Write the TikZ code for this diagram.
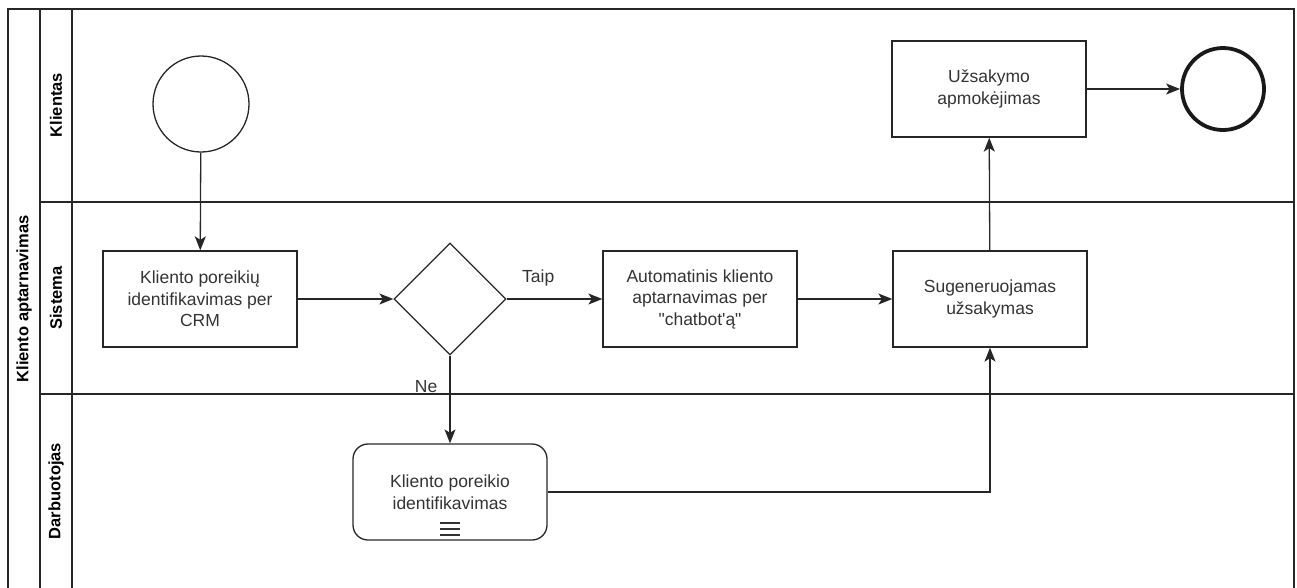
\documentclass[tikz,border=0pt]{standalone}
\usepackage{fontspec}
\setmainfont{Liberation Sans}[Ligatures=TeXOff]
\usetikzlibrary{shapes.geometric,arrows.meta}
\definecolor{txt}{HTML}{333333}
\tikzset{
  line/.style={draw=black!85, line width=1.3pt},
  flow/.style={line, -{Stealth[length=14pt,width=11pt,inset=3.5pt]}},
  task/.style={line, rectangle, minimum width=194pt, minimum height=96pt, align=center, text=txt, font=\fontsize{17.5}{21.5}\selectfont, inner sep=0pt},
  lanelabel/.style={rotate=90, font=\bfseries\fontsize{16.5}{20}\selectfont, text=black},
  lbl/.style={text=txt, font=\fontsize{17.5}{21}\selectfont, inner sep=0pt}
}
\begin{document}
\begin{tikzpicture}[x=1pt,y=-1pt]
\useasboundingbox (0,0) rectangle (1297,587);
% pool and lanes
\draw[line] (8,595) -- (8,9) -- (1294,9) -- (1294,595);
\draw[line] (40,9) -- (40,595);
\draw[line] (72,9) -- (72,595);
\draw[line] (40,202) -- (1294,202);
\draw[line] (40,394) -- (1294,394);
\node[lanelabel] (pool) at (24,299) {Kliento aptarnavimas};
\node[lanelabel] (l1) at (56,105) {Klientas};
\node[lanelabel] (l2) at (56,298) {Sistema};
\node[lanelabel] (l3) at (56,491) {Darbuotojas};
% nodes
\node[line, circle, minimum size=96pt, inner sep=0pt] (start) at (201,104) {};
\node[task] (t1) at (200,299) {Kliento poreikių\\identifikavimas per\\CRM};
\node[line, diamond, minimum width=112pt, minimum height=112pt, inner sep=0pt] (gw) at (450,299) {};
\node[task] (t2) at (700,299) {Automatinis kliento\\aptarnavimas per\\"chatbot'ą"};
\node[task] (t3) at (990,299) {Sugeneruojamas\\užsakymas};
\node[task] (t4) at (989,89) {Užsakymo\\apmokėjimas};
\node[task, rounded corners=15pt] (t5) at (450,492) {Kliento poreikio\\identifikavimas};
\node[draw=black!90, line width=3.8pt, circle, minimum size=82pt, inner sep=0pt] (end) at (1223,89) {};
% marker
\coordinate (m) at (450,529);
\draw[line width=1.3pt, draw=black!80] ([xshift=-10pt,yshift=6pt]m) -- ([xshift=10pt,yshift=6pt]m)
  ([xshift=-10pt]m) -- ([xshift=10pt]m)
  ([xshift=-10pt,yshift=-6pt]m) -- ([xshift=10pt,yshift=-6pt]m);
% flows
\draw[flow] (start) -- (t1);
\draw[flow] (t1) -- (gw.west);
\draw[flow] (gw.east) -- node[lbl, pos=0.33, above=12pt] (taip) {Taip} (t2);
\draw[flow] (gw.south) -- node[lbl, pos=0.35, left=12pt] (ne) {Ne} (t5);
\draw[flow] (t2) -- (t3);
\draw[flow] (t3) -- (t4);
\draw[flow] (t4) -- (end);
\draw[flow] (t5.east) -| (t3.south);
\end{tikzpicture}
\end{document}
